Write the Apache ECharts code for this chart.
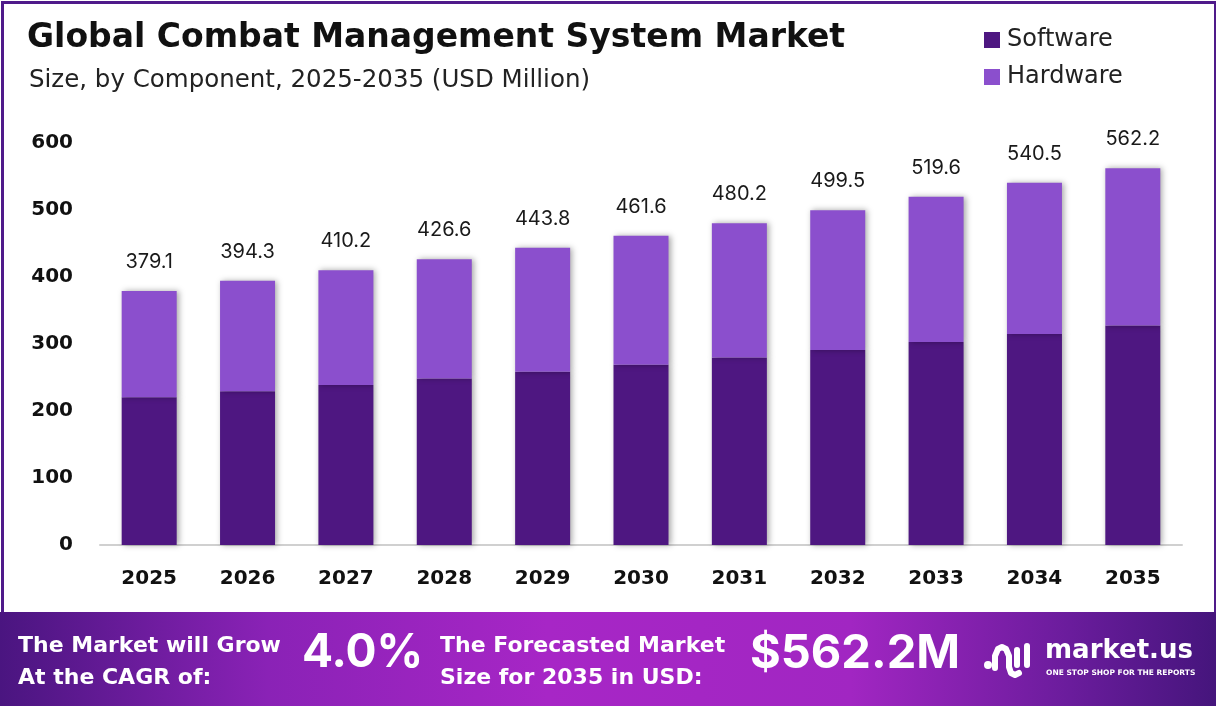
<!DOCTYPE html>
<html>
<head>
<meta charset="utf-8">
<title>Global Combat Management System Market</title>
<script src="https://cdn.jsdelivr.net/npm/echarts@6/dist/echarts.min.js"></script>
<style>
	html, body { margin: 0; padding: 0; background: #fff; }
	#main { width: 1216px; height: 706px; }
</style>
</head>
<body>
<div id="main"></div>
<script>
	// 数据
	var years = ['2025', '2026', '2027', '2028', '2029', '2030', '2031', '2032', '2033', '2034', '2035'];
	var software = [220.6, 229.6, 238.9, 248.6, 258.6, 269.0, 279.9, 291.1, 302.8, 315.0, 327.6];
	var hardware = [158.5, 164.7, 171.3, 178.0, 185.2, 192.6, 200.3, 208.4, 216.8, 225.5, 234.6];
	var totals = ['379.1', '394.3', '410.2', '426.6', '443.8', '461.6', '480.2', '499.5', '519.6', '540.5', '562.2'];
	var yTicks = [0, 100, 200, 300, 400, 500, 600];

	var font = 'Inter, "Noto Sans", sans-serif';
	var wide = '"DejaVu Sans", sans-serif';
	var myChart = echarts.init(document.getElementById('main'));

	var barShadow = {
		shadowBlur: 6,
		shadowColor: 'rgba(0,0,0,0.35)',
		shadowOffsetX: 2,
		shadowOffsetY: 0
	};

	var option = {
		backgroundColor: '#fff',
		animation: false,
		title: [{
			text: 'Global Combat Management System Market',
			left: 22,
			top: 17,
			textStyle: { fontFamily: wide, fontSize: 33, fontWeight: 'bold', color: '#111' }
		}, {
			text: 'Size, by Component, 2025-2035 (USD Million)',
			left: 24,
			top: 63,
			textStyle: { fontFamily: wide, fontSize: 24.5, fontWeight: 'normal', color: '#222' }
		}],
		legend: {
			orient: 'vertical',
			left: 984,
			top: 28,
			padding: 0,
			itemWidth: 16,
			itemHeight: 16,
			itemGap: 13,
			icon: 'rect',
			textStyle: { fontFamily: wide, fontSize: 24, color: '#222', padding: [0, 0, 0, 2] },
			data: ['Software', 'Hardware']
		},
		grid: { left: 100, right: 34, top: 143, bottom: 161, containLabel: false },
		xAxis: {
			type: 'category',
			data: years,
			axisLine: { lineStyle: { color: '#d0d0d0', width: 2 } },
			axisTick: { show: false },
			axisLabel: { fontFamily: wide, fontSize: 20, fontWeight: 'bold', color: '#111', margin: 24 }
		},
		yAxis: {
			type: 'value',
			min: yTicks[0],
			max: yTicks[yTicks.length - 1],
			interval: 100,
			splitLine: { show: false },
			axisLine: { show: false },
			axisTick: { show: false },
			axisLabel: { fontFamily: wide, fontSize: 20, fontWeight: 'bold', color: '#111', margin: 27 }
		},
		series: [{
			name: 'Software',
			type: 'bar',
			stack: 'total',
			barWidth: 55,
			data: software,
			itemStyle: Object.assign({ color: '#4e1781' }, barShadow)
		}, {
			name: 'Hardware',
			type: 'bar',
			stack: 'total',
			barWidth: 55,
			data: hardware,
			itemStyle: Object.assign({ color: '#8b4fcd' }, barShadow),
			label: {
				show: true,
				position: 'top',
				distance: 19,
				fontFamily: font,
				fontSize: 20,
				color: '#1a1a1a',
				formatter: function(p) {
					return totals[p.dataIndex];
				}
			}
		}],
		graphic: [
			// 外框
			{
				type: 'rect', left: 0, top: 0, z: 100, silent: true,
				shape: { x: 1, y: 1, width: 1213, height: 704 },
				style: { fill: 'none', stroke: '#4f1a8a', lineWidth: 3 }
			},
			// 底部横幅
			{
				type: 'rect', z: 101, silent: true,
				shape: { x: 0, y: 612, width: 1216, height: 94 },
				style: {
					fill: new echarts.graphic.LinearGradient(0, 0, 1, 0, [
						{ offset: 0, color: '#4a1580' },
						{ offset: 0.22, color: '#8a22b6' },
						{ offset: 0.45, color: '#a726c6' },
						{ offset: 0.7, color: '#a126c2' },
						{ offset: 0.88, color: '#6a1c9c' },
						{ offset: 1, color: '#45157c' }
					])
				}
			},
			{
				type: 'text', z: 102, silent: true, left: 18, top: 630,
				style: { text: 'The Market will Grow\nAt the CAGR of:', fill: '#fff', font: 'bold 22px ' + wide, lineHeight: 32 }
			},
			{
				type: 'text', z: 102, silent: true, left: 302, top: 630,
				style: { text: '4.0%', fill: '#fff', font: 'bold 46px ' + font, shadowBlur: 6, shadowColor: 'rgba(0,0,0,0.4)', shadowOffsetX: 2, shadowOffsetY: 2 }
			},
			{
				type: 'text', z: 102, silent: true, left: 440, top: 630,
				style: { text: 'The Forecasted Market\nSize for 2035 in USD:', fill: '#fff', font: 'bold 22px ' + wide, lineHeight: 32 }
			},
			{
				type: 'text', z: 102, silent: true, left: 750, top: 630,
				style: { text: '$562.2M', fill: '#fff', font: 'bold 47px ' + font, shadowBlur: 6, shadowColor: 'rgba(0,0,0,0.4)', shadowOffsetX: 2, shadowOffsetY: 2 }
			},
			// logo 图标
			{
				type: 'circle', z: 102, silent: true,
				shape: { cx: 988, cy: 665, r: 4 },
				style: { fill: '#fff' }
			},
			{
				type: 'polyline', z: 102, silent: true,
				shape: { points: [[995, 668], [995, 656], [998, 649], [1002, 647], [1006, 649], [1009, 656], [1009, 667], [1011, 673], [1015, 675], [1019, 673]] },
				style: { stroke: '#fff', lineWidth: 6, fill: 'none', lineCap: 'round', lineJoin: 'round' }
			},
			{
				type: 'line', z: 102, silent: true,
				shape: { x1: 1017, y1: 650, x2: 1017, y2: 665 },
				style: { stroke: '#fff', lineWidth: 6, lineCap: 'round' }
			},
			{
				type: 'line', z: 102, silent: true,
				shape: { x1: 1027, y1: 646, x2: 1027, y2: 665 },
				style: { stroke: '#fff', lineWidth: 6, lineCap: 'round' }
			},
			{
				type: 'text', z: 102, silent: true, left: 1045, top: 638,
				style: { text: 'market.us', fill: '#fff', font: 'bold 26px ' + wide }
			},
			{
				type: 'text', z: 102, silent: true, left: 1046, top: 669,
				style: { text: 'ONE STOP SHOP FOR THE REPORTS', fill: '#fff', font: 'bold 7.5px ' + wide }
			}
		]
	};

	myChart.setOption(option);
</script>
</body>
</html>
